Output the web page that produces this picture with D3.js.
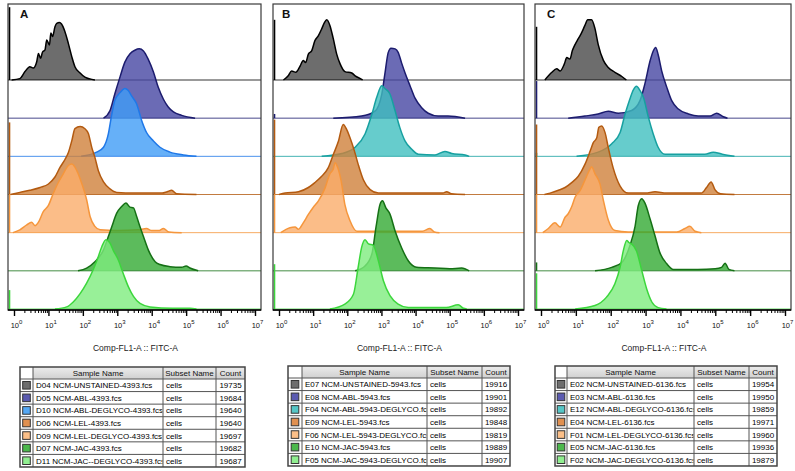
<!DOCTYPE html>
<html><head><meta charset="utf-8">
<script src="https://cdn.jsdelivr.net/npm/d3@7"></script>
<style>body{margin:0;background:#fff}svg{display:block}text{font-family:"Liberation Sans",Arial,sans-serif}</style>
</head><body><svg id="c" width="795" height="471"></svg>
<script>
// ---------- DATA (x in log10 decades, height in % of mode) ----------
const decades = [0,1,2,3,4,5,6,7];
const rowLabels = ["UNSTAINED","ABL","ABL-DEGLYCO","LEL","LEL-DEGLYCO","JAC","JAC-DEGLYCO"];

const A_UNSTAINED = [[-0.07,0],[0.17,2],[0.32,12],[0.46,19],[0.56,17],[0.66,26],[0.71,38],[0.77,31],[0.83,40],[0.9,43],[0.95,57],[1.03,50],[1.07,67],[1.12,62],[1.19,76],[1.24,81],[1.32,82],[1.38,80],[1.48,69],[1.58,52],[1.68,33],[1.77,19],[1.92,10],[2.06,4],[2.35,0]];
const A_ABL = [[2.6,0],[2.79,11],[2.93,35],[3.08,59],[3.22,80],[3.37,92],[3.51,97],[3.64,99],[3.76,96],[3.9,84],[4.05,66],[4.19,44],[4.34,27],[4.48,16],[4.63,9],[4.87,4],[5.26,0]];
const A_ABL_DG = [[1.95,0],[2.4,6],[2.6,13],[2.74,32],[2.84,60],[2.93,80],[3.08,91],[3.22,97],[3.32,94],[3.42,86],[3.56,75],[3.71,51],[3.85,34],[4.05,22],[4.24,13],[4.53,6],[4.92,2],[5.3,0]];
const A_LEL = [[-0.1,0],[0.17,3],[0.46,6],[0.76,10],[1.0,15],[1.19,25],[1.34,39],[1.48,50],[1.58,60],[1.68,77],[1.77,94],[1.92,97],[2.06,94],[2.16,87],[2.26,67],[2.35,53],[2.45,34],[2.6,18],[2.79,8],[2.98,3],[3.5,2],[4.3,2],[4.45,4],[4.58,6],[4.72,1],[5.3,0]];
const A_LEL_DG = [[-0.03,0],[0.17,4],[0.37,11],[0.51,15],[0.61,10],[0.71,15],[0.85,30],[1.0,39],[1.14,56],[1.29,72],[1.43,84],[1.58,96],[1.68,98],[1.82,89],[1.97,70],[2.11,47],[2.21,23],[2.35,9],[2.5,4],[3.0,3],[3.6,4],[3.85,6],[4.0,3],[4.2,3],[4.34,6],[4.5,1],[4.87,0]];
const A_JAC = [[1.86,0],[2.11,4],[2.35,13],[2.6,30],[2.74,49],[2.84,63],[2.98,82],[3.13,92],[3.25,97],[3.37,91],[3.47,90],[3.56,78],[3.66,63],[3.76,49],[3.9,30],[4.1,13],[4.24,9],[4.53,6],[4.87,5],[5.0,7],[5.11,4],[5.35,0]];
const A_JAC_DG = [[1.19,0],[1.53,3],[1.72,10],[1.92,22],[2.11,37],[2.3,56],[2.45,75],[2.55,89],[2.67,99],[2.79,94],[2.88,84],[3.03,70],[3.17,51],[3.32,32],[3.47,18],[3.66,8],[3.95,3],[4.6,1],[5.11,1],[5.3,0]];
const A_SPIKES = [104,0,0,103,55,0,27];

const B_UNSTAINED = [[0.13,0],[0.27,6],[0.37,13],[0.49,11],[0.62,20],[0.71,28],[0.78,25],[0.86,37],[0.96,42],[1.05,56],[1.15,63],[1.25,73],[1.33,82],[1.4,86],[1.49,78],[1.59,59],[1.69,37],[1.79,23],[1.93,12],[2.13,10],[2.23,6],[2.42,1],[2.45,0]];
const B_ABL = [[1.59,0],[2.42,3],[2.81,10],[3.01,34],[3.1,63],[3.2,94],[3.28,100],[3.4,99],[3.49,94],[3.59,79],[3.69,65],[3.84,46],[3.98,29],[4.18,15],[4.37,7],[4.66,3],[4.95,3],[5.45,0]];
const B_ABL_DG = [[1.25,0],[1.84,4],[2.23,13],[2.52,32],[2.72,60],[2.86,84],[3.01,101],[3.1,97],[3.25,89],[3.4,65],[3.54,41],[3.69,22],[3.89,10],[4.08,3],[4.57,2],[4.86,7],[5.06,4],[5.45,2],[5.57,0]];
const B_LEL = [[0.0,0],[0.18,2],[0.57,4],[0.86,10],[1.05,17],[1.25,26],[1.44,38],[1.59,57],[1.74,76],[1.88,100],[1.98,93],[2.08,81],[2.21,62],[2.32,43],[2.47,21],[2.67,7],[2.91,2],[4.3,2],[4.8,2],[4.91,4],[5.05,1],[5.45,0]];
const B_LEL_DG = [[0.05,0],[0.32,7],[0.47,8],[0.57,5],[0.71,14],[0.86,26],[1.0,36],[1.15,45],[1.35,64],[1.49,84],[1.59,91],[1.64,100],[1.72,93],[1.82,74],[1.93,40],[2.08,17],[2.28,2],[3.0,2],[4.2,2],[4.42,6],[4.55,1],[4.7,0]];
const B_JAC = [[2.23,0],[2.52,7],[2.72,24],[2.84,62],[2.96,95],[3.03,100],[3.13,90],[3.25,81],[3.4,57],[3.59,33],[3.79,14],[4.03,5],[4.57,4],[5.0,3],[5.35,4],[5.57,0]];
const B_JAC_DG = [[1.49,0],[1.93,7],[2.18,21],[2.32,60],[2.42,88],[2.52,99],[2.62,93],[2.76,91],[2.91,69],[3.06,40],[3.25,19],[3.49,7],[3.79,2],[4.9,2],[5.25,6],[5.4,1],[5.5,0]];
const B_SPIKES = [86,6,0,107,55,0,64];

const C_UNSTAINED = [[0.11,0],[0.31,11],[0.45,16],[0.55,13],[0.67,23],[0.74,32],[0.83,30],[0.9,42],[0.98,51],[1.07,59],[1.17,68],[1.26,78],[1.34,86],[1.45,86],[1.55,73],[1.64,51],[1.79,28],[1.93,18],[2.12,11],[2.32,5],[2.45,0]];
const C_ABL = [[0.78,0],[1.26,3],[1.64,6],[1.93,10],[2.22,7],[2.6,11],[2.84,25],[2.98,49],[3.13,82],[3.22,96],[3.29,101],[3.36,91],[3.46,68],[3.61,44],[3.75,25],[3.94,13],[4.23,6],[4.51,3],[4.85,3],[5.04,7],[5.23,2],[5.35,0]];
const C_ABL_DG = [[1.02,0],[1.64,6],[2.03,18],[2.27,34],[2.41,60],[2.55,82],[2.65,95],[2.74,100],[2.84,94],[2.94,84],[3.08,56],[3.22,32],[3.36,13],[3.56,3],[4.7,3],[4.94,6],[5.2,3],[5.55,0]];
const C_LEL = [[0.1,0],[0.26,2],[0.5,6],[0.69,10],[0.88,17],[1.07,26],[1.26,43],[1.41,62],[1.5,74],[1.6,81],[1.66,96],[1.74,98],[1.84,88],[1.93,67],[2.07,38],[2.27,12],[2.5,2],[3.0,2],[3.27,4],[3.6,2],[4.6,2],[4.75,10],[4.88,18],[4.99,7],[5.15,1],[5.55,0]];
const C_LEL_DG = [[0.05,0],[0.21,6],[0.4,14],[0.55,8],[0.69,22],[0.78,27],[0.88,37],[0.98,51],[1.12,60],[1.26,75],[1.41,91],[1.45,94],[1.55,84],[1.69,70],[1.79,46],[1.93,18],[2.12,3],[2.5,1],[3.9,1],[4.13,6],[4.27,9],[4.42,2],[4.6,0]];
const C_JAC = [[1.55,0],[2.03,5],[2.32,12],[2.55,36],[2.7,64],[2.79,93],[2.89,103],[2.98,97],[3.13,74],[3.27,50],[3.41,26],[3.61,10],[3.8,2],[4.5,2],[5.0,3],[5.18,5],[5.28,11],[5.39,2],[5.55,0]];
const C_JAC_DG = [[0.98,0],[1.55,5],[1.88,17],[2.12,36],[2.27,60],[2.36,83],[2.46,98],[2.52,95],[2.6,93],[2.74,83],[2.89,55],[3.03,29],[3.18,10],[3.36,2],[3.6,0]];
const C_SPIKES = [76,53,5,100,55,12,51];

const A_samples = ["D04 NCM-UNSTAINED-4393.fcs","D05 NCM-ABL-4393.fcs","D10 NCM-ABL-DEGLYCO-4393.fcs","D06 NCM-LEL-4393.fcs","D09 NCM-LEL-DEGLYCO-4393.fcs","D07 NCM-JAC-4393.fcs","D11 NCM-JAC--DEGLYCO-4393.fcs"];
const A_counts = [19735,19684,19640,19640,19697,19682,19687];
const B_samples = ["E07 NCM-UNSTAINED-5943.fcs","E08 NCM-ABL-5943.fcs","F04 NCM-ABL-5943-DEGLYCO.fcs","E09 NCM-LEL-5943.fcs","F06 NCM-LEL-5943-DEGLYCO.fcs","E10 NCM-JAC-5943.fcs","F05 NCM-JAC-5943-DEGLYCO.fcs"];
const B_counts = [19916,19901,19892,19848,19819,19889,19907];
const C_samples = ["E02 NCM-UNSTAINED-6136.fcs","E03 NCM-ABL-6136.fcs","E12 NCM-ABL-DEGLYCO-6136.fcs","E04 NCM-LEL-6136.fcs","F01 NCM-LEL-DEGLYCO-6136.fcs","E05 NCM-JAC-6136.fcs","F02 NCM-JAC-DEGLYCO-6136.fcs"];
const C_counts = [19954,19950,19859,19971,19960,19936,19879];
const subsetName = "cells";
const headers = ["Sample Name","Subset Name","Count"];
const axisTitle = "Comp-FL1-A :: FITC-A";

// ---------- STYLE / LAYOUT ----------
const fillsA = ["#484848","#4646a3","#409cf6","#d0813b","#faad6a","#33aa33","#7eec7e"];
const fillsBC = ["#484848","#4646a3","#40bfbf","#d0813b","#faad6a","#33aa33","#7eec7e"];
const strokesA = ["#000000","#1c1c6e","#1f78e8","#b35a10","#f5963c","#157015","#3cd63c"];
const strokesBC = ["#000000","#1c1c6e","#17a0a0","#b35a10","#f5963c","#157015","#3cd63c"];
const swatchA = ["#6d6d6d","#5a5ab0","#55a8f5","#e09050","#fbbf88","#4cb84c","#90ee90"];
const swatchBC = ["#6d6d6d","#5a5ab0","#55c6c6","#e09050","#fbbf88","#4cb84c","#90ee90"];

const panels = [
  {key:"A", x0:8, x1:261, ax0:14, ax1:255, lx:20, cols:[20,33,163,216,245], tTop:367,
   curves:[A_UNSTAINED,A_ABL,A_ABL_DG,A_LEL,A_LEL_DG,A_JAC,A_JAC_DG], spikes:A_SPIKES,
   samples:A_samples, counts:A_counts, fills:fillsA, strokes:strokesA, sw:swatchA},
  {key:"B", x0:273, x1:524, ax0:279, ax1:518, lx:282, cols:[288,302,427,482,510], tTop:366,
   curves:[B_UNSTAINED,B_ABL,B_ABL_DG,B_LEL,B_LEL_DG,B_JAC,B_JAC_DG], spikes:B_SPIKES,
   samples:B_samples, counts:B_counts, fills:fillsBC, strokes:strokesBC, sw:swatchBC},
  {key:"C", x0:535, x1:791, ax0:541, ax1:785, lx:547, cols:[555,567,694,749,777], tTop:366,
   curves:[C_UNSTAINED,C_ABL,C_ABL_DG,C_LEL,C_LEL_DG,C_JAC,C_JAC_DG], spikes:C_SPIKES,
   samples:C_samples, counts:C_counts, fills:fillsBC, strokes:strokesBC, sw:swatchBC}
];

const svg = d3.select("#c");
const frameTop = 4, axisY = 310;
const yb = d3.scalePoint().domain(d3.range(7)).range([80, 309]);
const hs = d3.scaleLinear().domain([0,100]).range([0,70]);
const defs = svg.append("defs");
const grad = defs.append("linearGradient").attr("id","hdr").attr("x1",0).attr("x2",0).attr("y1",0).attr("y2",1);
grad.append("stop").attr("offset","0%").attr("stop-color","#ececec");
grad.append("stop").attr("offset","100%").attr("stop-color","#d0d0d0");

panels.forEach((p,pi)=>{
  const x = d3.scaleLog().domain([1,1e7]).range([p.ax0,p.ax1]);
  defs.append("clipPath").attr("id","clip"+pi).append("rect")
    .attr("x",p.x0).attr("y",frameTop).attr("width",p.x1-p.x0).attr("height",axisY-frameTop);
  const g = svg.append("g").attr("clip-path",`url(#clip${pi})`);

  p.curves.forEach((c,i)=>{
    const base = yb(i);
    const area = d3.area().x(d=>x(Math.pow(10,d[0]))).y0(base).y1(d=>base-hs(d[1])).curve(d3.curveMonotoneX);
    const line = d3.line().x(d=>x(Math.pow(10,d[0]))).y(d=>base-hs(d[1])).curve(d3.curveMonotoneX);
    g.append("path").datum(c).attr("d",area).attr("fill",p.fills[i]).attr("fill-opacity",0.8);
    g.append("line").attr("x1",p.x0).attr("x2",p.x1).attr("y1",base).attr("y2",base)
      .attr("stroke",p.strokes[i]).attr("stroke-width",1).attr("stroke-opacity",0.8);
    g.append("path").datum(c).attr("d",line).attr("fill","none").attr("stroke",p.strokes[i]).attr("stroke-width",1.5)
      .attr("stroke-linejoin","round");
    if (p.spikes[i] > 0) {
      g.append("line").attr("x1",p.x0+1.5).attr("x2",p.x0+1.5).attr("y1",base).attr("y2",base-hs(p.spikes[i]))
        .attr("stroke",p.strokes[i]).attr("stroke-width",1.6);
    }
  });

  // frame
  svg.append("rect").attr("x",p.x0).attr("y",frameTop).attr("width",p.x1-p.x0).attr("height",axisY-frameTop)
    .attr("fill","none").attr("stroke","#3a3a3a").attr("stroke-width",1.2);
  svg.append("text").attr("x",p.lx).attr("y",18).attr("font-size",11.5).attr("font-weight","bold").attr("fill","#111").text(p.key);

  // axis
  const minor = [];
  decades.slice(0,-1).forEach(dc=>{ for (let k=2;k<=9;k++) minor.push(k*Math.pow(10,dc)); });
  const gMinor = svg.append("g").attr("transform",`translate(0,${axisY})`)
    .call(d3.axisBottom(x).tickValues(minor).tickSize(3).tickFormat(""));
  gMinor.select(".domain").remove();
  gMinor.selectAll(".tick line").attr("stroke","#000").attr("stroke-width",1);
  const gMajor = svg.append("g").attr("transform",`translate(0,${axisY})`)
    .call(d3.axisBottom(x).tickValues(decades.map(d=>Math.pow(10,d))).tickSize(6).tickFormat(""));
  gMajor.select(".domain").remove();
  gMajor.selectAll(".tick line").attr("stroke","#000").attr("stroke-width",1.4);
  gMajor.selectAll(".tick text").each(function(v){
    const t = d3.select(this).attr("y",18).attr("dy",null).attr("font-size",7.5).attr("fill","#111")
      .attr("text-anchor","middle").attr("x",2).text("10");
    t.append("tspan").attr("dy",-4).attr("font-size",6).text(Math.round(Math.log10(v)));
  });
  svg.append("line").attr("x1",p.x0).attr("x2",p.x1).attr("y1",axisY).attr("y2",axisY).attr("stroke","#000").attr("stroke-width",1.4);
  svg.append("text").attr("x",(p.x0+p.x1)/2+1).attr("y",351).attr("text-anchor","middle").attr("font-size",8.5)
    .attr("fill","#222").text(axisTitle);

  // table
  const cols = p.cols, tTop = p.tTop, hH = 12, rH = 12.57;
  const tBot = tTop + hH + 7*rH;
  const t = svg.append("g");
  t.append("rect").attr("x",cols[1]).attr("y",tTop).attr("width",cols[4]-cols[1]).attr("height",hH).attr("fill","url(#hdr)");
  headers.forEach((h,j)=>{
    t.append("text").attr("x",(cols[j+1]+cols[j+2])/2).attr("y",tTop+9).attr("text-anchor","middle")
      .attr("font-size",8).attr("fill","#111").text(h);
  });
  defs.append("clipPath").attr("id","tclip"+pi).append("rect")
    .attr("x",cols[1]).attr("y",tTop).attr("width",cols[2]-cols[1]-0.5).attr("height",tBot-tTop);
  p.samples.forEach((s,i)=>{
    const y0 = tTop + hH + i*rH;
    t.append("rect").attr("x",(cols[0]+cols[1])/2-3.8).attr("y",y0+rH/2-3.8).attr("width",7.6).attr("height",7.6)
      .attr("fill",p.sw[i]).attr("stroke","#333").attr("stroke-width",1);
    t.append("text").attr("x",cols[1]+3).attr("y",y0+9.3).attr("font-size",8).attr("fill","#000")
      .attr("clip-path",`url(#tclip${pi})`).text(s);
    t.append("text").attr("x",cols[2]+3).attr("y",y0+9.3).attr("font-size",8).attr("fill","#000").text(subsetName);
    t.append("text").attr("x",(cols[3]+cols[4])/2).attr("y",y0+9.3).attr("text-anchor","middle").attr("font-size",8).attr("fill","#000").text(p.counts[i]);
  });
  for (let i=1;i<=7;i++){
    const y = tTop + hH + (i-1)*rH;
    t.append("line").attr("x1",cols[0]).attr("x2",cols[4]).attr("y1",y).attr("y2",y).attr("stroke","#555").attr("stroke-width",1);
  }
  cols.slice(1,4).forEach(cx=>{
    t.append("line").attr("x1",cx).attr("x2",cx).attr("y1",tTop).attr("y2",tBot).attr("stroke","#555").attr("stroke-width",1);
  });
  t.append("rect").attr("x",cols[0]).attr("y",tTop).attr("width",cols[4]-cols[0]).attr("height",tBot-tTop)
    .attr("fill","none").attr("stroke","#444").attr("stroke-width",1.5);
});
</script></body></html>
